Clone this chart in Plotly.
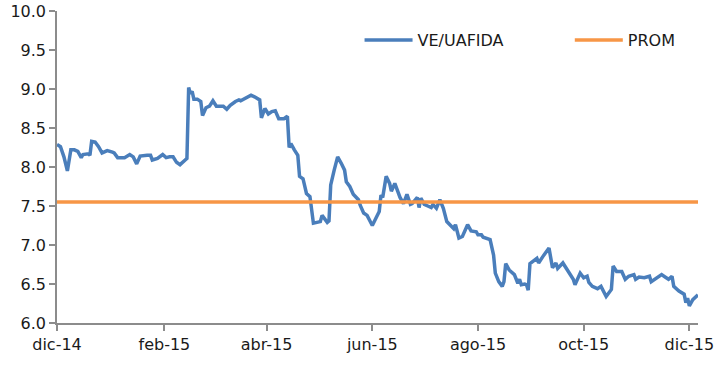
import plotly.graph_objects as go

dates = [
    "2014-12-01", "2014-12-03", "2014-12-05", "2014-12-07", "2014-12-09", "2014-12-11",
    "2014-12-13", "2014-12-15", "2014-12-16", "2014-12-19", "2014-12-20", "2014-12-21",
    "2014-12-23", "2014-12-25", "2014-12-27", "2014-12-30", "2015-01-02", "2015-01-03",
    "2015-01-05", "2015-01-09", "2015-01-12", "2015-01-14", "2015-01-16", "2015-01-18",
    "2015-01-22", "2015-01-24", "2015-01-25", "2015-01-28", "2015-01-31", "2015-02-02",
    "2015-02-04", "2015-02-06", "2015-02-08", "2015-02-10", "2015-02-13", "2015-02-14",
    "2015-02-15", "2015-02-16", "2015-02-17", "2015-02-18", "2015-02-20", "2015-02-21",
    "2015-02-22", "2015-02-23", "2015-02-25", "2015-02-27", "2015-03-01", "2015-03-03",
    "2015-03-07", "2015-03-09", "2015-03-11", "2015-03-14", "2015-03-16", "2015-03-17",
    "2015-03-20", "2015-03-23", "2015-03-25", "2015-03-28", "2015-03-29", "2015-03-31",
    "2015-04-02", "2015-04-04", "2015-04-06", "2015-04-08", "2015-04-11", "2015-04-13",
    "2015-04-14", "2015-04-15", "2015-04-17", "2015-04-19", "2015-04-20", "2015-04-22",
    "2015-04-24", "2015-04-26", "2015-04-28", "2015-04-30", "2015-05-02", "2015-05-03",
    "2015-05-06", "2015-05-07", "2015-05-08", "2015-05-10", "2015-05-12", "2015-05-14",
    "2015-05-16", "2015-05-17", "2015-05-19", "2015-05-21", "2015-05-24", "2015-05-25",
    "2015-05-27", "2015-05-29", "2015-05-30", "2015-06-01", "2015-06-03", "2015-06-05",
    "2015-06-06", "2015-06-07", "2015-06-09", "2015-06-11", "2015-06-12", "2015-06-14",
    "2015-06-15", "2015-06-17", "2015-06-19", "2015-06-21", "2015-06-23", "2015-06-24",
    "2015-06-27", "2015-06-28", "2015-06-29", "2015-07-01", "2015-07-03", "2015-07-05",
    "2015-07-06", "2015-07-08", "2015-07-10", "2015-07-12", "2015-07-14", "2015-07-16",
    "2015-07-18", "2015-07-19", "2015-07-21", "2015-07-23", "2015-07-26", "2015-07-28",
    "2015-07-31", "2015-08-01", "2015-08-03", "2015-08-04", "2015-08-08", "2015-08-10",
    "2015-08-11", "2015-08-13", "2015-08-15", "2015-08-16", "2015-08-17", "2015-08-19",
    "2015-08-21", "2015-08-22", "2015-08-24", "2015-08-25", "2015-08-26", "2015-08-28",
    "2015-08-29", "2015-08-30", "2015-08-31", "2015-09-02", "2015-09-04", "2015-09-05",
    "2015-09-07", "2015-09-08", "2015-09-11", "2015-09-13", "2015-09-15", "2015-09-16",
    "2015-09-19", "2015-09-21", "2015-09-23", "2015-09-25", "2015-09-26", "2015-09-29",
    "2015-10-01", "2015-10-03", "2015-10-04", "2015-10-06", "2015-10-09", "2015-10-11",
    "2015-10-14", "2015-10-16", "2015-10-17", "2015-10-18", "2015-10-20", "2015-10-23",
    "2015-10-25", "2015-10-27", "2015-10-30", "2015-10-31", "2015-11-02", "2015-11-05",
    "2015-11-08", "2015-11-09", "2015-11-12", "2015-11-15", "2015-11-17", "2015-11-19",
    "2015-11-21", "2015-11-22", "2015-11-25", "2015-11-28", "2015-11-29", "2015-11-30",
    "2015-12-01", "2015-12-03", "2015-12-06",
]

ve_uafida = [
    8.29, 8.26, 8.13, 7.95, 8.22, 8.22,
    8.20, 8.12, 8.16, 8.17, 8.15, 8.33,
    8.32, 8.26, 8.18, 8.21, 8.19, 8.18,
    8.12, 8.12, 8.16, 8.13, 8.04, 8.14,
    8.15, 8.15, 8.09, 8.11, 8.16, 8.12,
    8.13, 8.13, 8.06, 8.03, 8.09, 8.11,
    9.02, 8.94, 8.97, 8.87, 8.87, 8.85,
    8.84, 8.66, 8.76, 8.78, 8.85, 8.78,
    8.78, 8.74, 8.79, 8.84, 8.86, 8.85,
    8.89, 8.92, 8.90, 8.86, 8.63, 8.75,
    8.68, 8.71, 8.72, 8.62, 8.62, 8.65,
    8.25, 8.30, 8.22, 8.15, 7.88, 7.85,
    7.66, 7.62, 7.28, 7.29, 7.30, 7.38,
    7.29, 7.31, 7.77, 7.96, 8.13, 8.05,
    7.96, 7.81, 7.75, 7.65, 7.58, 7.51,
    7.41, 7.38, 7.34, 7.25, 7.34, 7.43,
    7.64, 7.61, 7.88, 7.79, 7.69, 7.79,
    7.73, 7.61, 7.53, 7.65, 7.52, 7.53,
    7.61, 7.48, 7.60, 7.52, 7.50, 7.48,
    7.52, 7.47, 7.58, 7.47, 7.30, 7.26,
    7.21, 7.26, 7.09, 7.11, 7.26, 7.18,
    7.17, 7.13, 7.13, 7.10, 7.07, 6.87,
    6.64, 6.53, 6.47, 6.53, 6.76, 6.68,
    6.64, 6.62, 6.51, 6.56, 6.49, 6.50,
    6.49, 6.42, 6.76, 6.79, 6.83, 6.77,
    6.85, 6.87, 6.96, 6.71, 6.77, 6.70,
    6.77, 6.70, 6.62, 6.56, 6.49, 6.64,
    6.58, 6.60, 6.52, 6.47, 6.44, 6.47,
    6.34, 6.40, 6.43, 6.73, 6.66, 6.66,
    6.56, 6.60, 6.62, 6.56, 6.59, 6.58,
    6.60, 6.53, 6.58, 6.62, 6.59, 6.56,
    6.60, 6.47, 6.41, 6.37, 6.26, 6.32,
    6.22, 6.30, 6.36,
]

prom_value = 7.55
prom = [prom_value] * len(dates)

tick_dates = ["2014-12-01", "2015-02-01", "2015-04-01", "2015-06-01",
              "2015-08-01", "2015-10-01", "2015-12-01"]
tick_labels = ["dic-14", "feb-15", "abr-15", "jun-15", "ago-15", "oct-15", "dic-15"]

y_ticks = [6.0, 6.5, 7.0, 7.5, 8.0, 8.5, 9.0, 9.5, 10.0]

fig = go.Figure()
fig.add_trace(go.Scatter(x=dates, y=ve_uafida, mode="lines", name="VE/UAFIDA",
                         line=dict(color="#4A7EBB", width=3.5), legend="legend"))
fig.add_trace(go.Scatter(x=dates, y=prom, mode="lines", name="PROM",
                         line=dict(color="#F79646", width=3.5), legend="legend2"))

font_family = "DejaVu Sans, Verdana, sans-serif"
text_color = "#1a1a1a"
leg_common = dict(orientation="h", xanchor="left", yanchor="middle", y=0.907,
                  itemwidth=48,
                  bgcolor="rgba(0,0,0,0)", font=dict(size=16, color=text_color))
fig.update_layout(
    width=724, height=385,
    margin=dict(l=57, r=26, t=11, b=62, autoexpand=False),
    paper_bgcolor="white", plot_bgcolor="white",
    font=dict(family=font_family, size=16, color=text_color),
    showlegend=True,
    legend=dict(x=0.472, **leg_common),
    legend2=dict(x=0.80, **leg_common),
    xaxis=dict(
        type="date", range=["2014-12-01", "2015-12-06"],
        tickvals=tick_dates, ticktext=tick_labels,
        showgrid=False, zeroline=False, automargin=False,
        showline=True, linecolor="#8c8c8c", linewidth=1.5,
        ticks="outside", ticklen=6, tickcolor="#8c8c8c", tickwidth=1.5,
    ),
    yaxis=dict(
        range=[6.0, 10.0], tickvals=y_ticks, tickformat=".1f",
        showgrid=False, zeroline=False, automargin=False,
        showline=True, linecolor="#8c8c8c", linewidth=1.5,
        ticks="outside", ticklen=6, tickcolor="#8c8c8c", tickwidth=1.5,
    ),
)

fig.write_html("out.html", config={"displayModeBar": False},
               post_script="document.body.style.margin='0';document.body.style.padding='0';")
